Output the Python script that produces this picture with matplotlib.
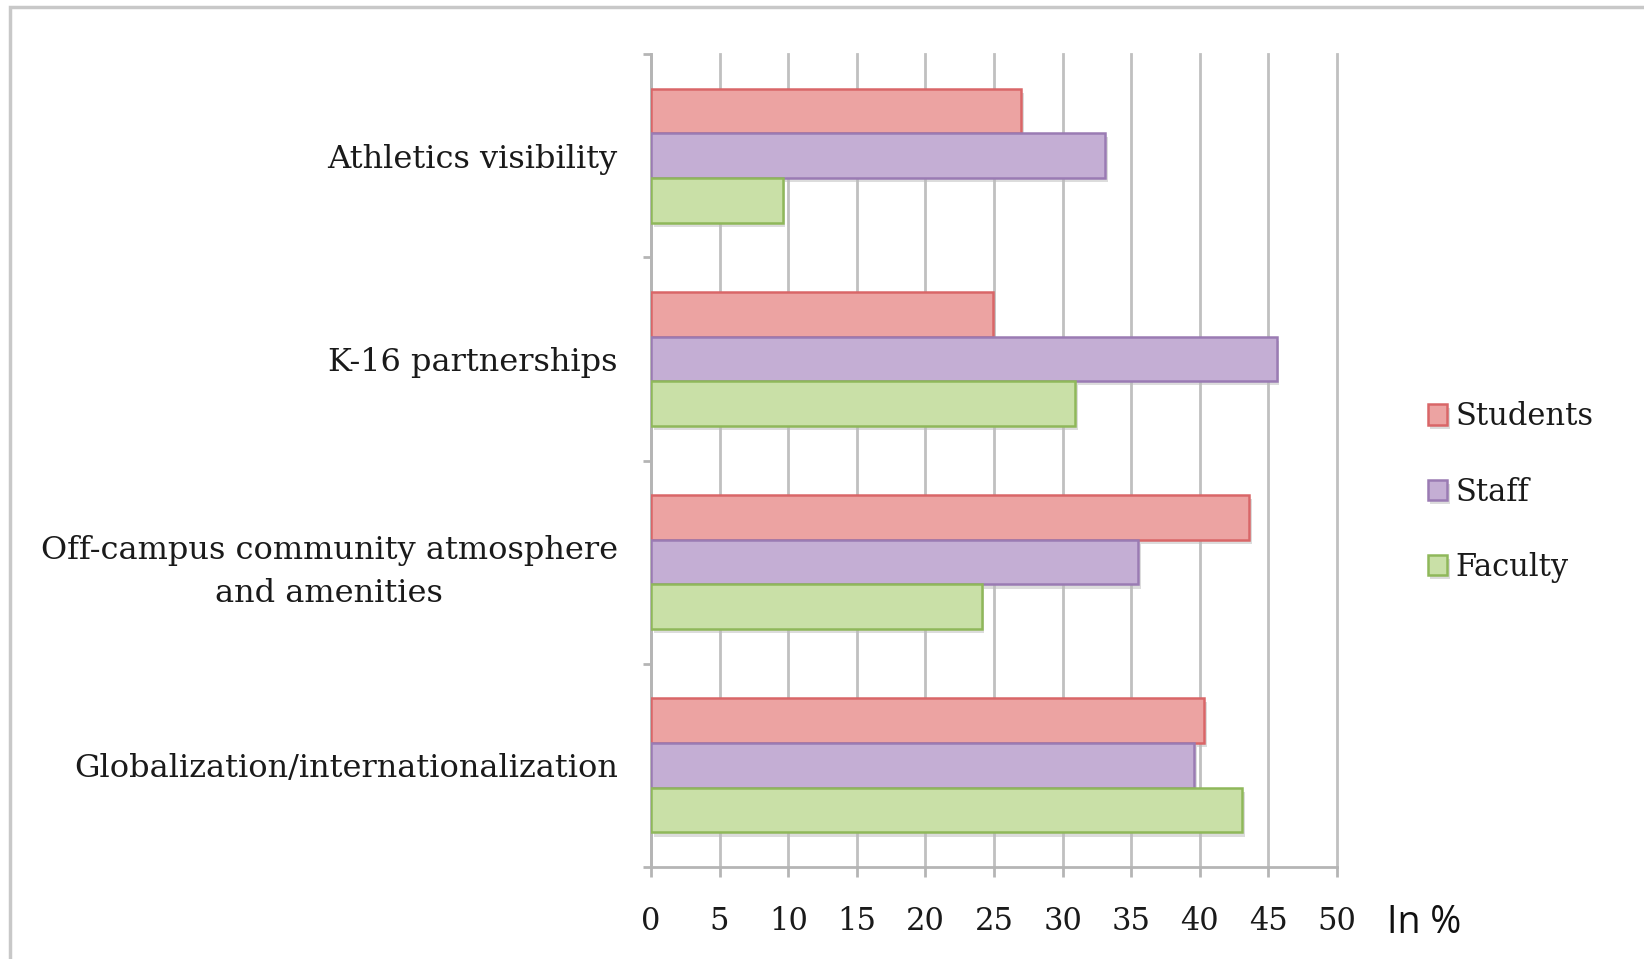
import matplotlib
matplotlib.use("Agg")
import matplotlib.pyplot as plt
import numpy as np
from matplotlib.patches import Rectangle
import matplotlib.patheffects as pe

categories = ["Athletics visibility", "K-16 partnerships",
              "Off-campus community atmosphere\nand amenities",
              "Globalization/internationalization"]
series_names = ["Students", "Staff", "Faculty"]
students = [27.0, 24.9, 43.6, 40.3]
staff = [33.1, 45.6, 35.5, 39.6]
faculty = [9.6, 30.9, 24.1, 43.1]
x_ticks = [0, 5, 10, 15, 20, 25, 30, 35, 40, 45, 50]

faces = ["#eca3a2", "#c4aed4", "#c9e0a7"]
edges = ["#d96668", "#9a7bb3", "#8fb85a"]

fig = plt.figure(figsize=(16.44, 9.59), dpi=100)
ax = fig.add_axes([651/1644, 1-867/959, (1337-651)/1644, (867-54)/959])

serif = "DejaVu Serif"
n = len(categories)
y = np.arange(n)
bh = 0.22
for i, (vals, fc, ec, name) in enumerate(zip([students, staff, faculty], faces, edges, series_names)):
    offs = (i - 1) * bh
    bars = ax.barh(y + offs, vals, height=bh, color=fc, edgecolor=ec, linewidth=1.8,
                   label=name, zorder=3)
    for b in bars:
        b.set_path_effects([pe.SimplePatchShadow(offset=(2, -3), shadow_rgbFace="#bbbbbb", alpha=0.5), pe.Normal()])

ax.set_ylim(n - 0.5, -0.5)
ax.set_xlim(0, 50)
ax.set_xticks(x_ticks)
ax.set_xticklabels([str(t) for t in x_ticks], family=serif, fontsize=22, color="#1a1a1a")
ax.set_yticks(y)
ax.set_yticklabels(categories, family=serif, fontsize=23, color="#1a1a1a",
                   multialignment="center", linespacing=1.5)
ax.set_yticks(np.arange(n + 1) - 0.5, minor=True)
ax.tick_params(axis="y", which="major", length=0, pad=24)
ax.tick_params(axis="y", which="minor", length=6, width=2, color="#b5b5b5", direction="out")
ax.tick_params(axis="x", length=7, width=2, color="#b5b5b5", direction="out", pad=21)

ax.grid(axis="x", color="#c0c0c0", linewidth=2, zorder=0)
for gl in ax.xaxis.get_gridlines():
    gl.set_clip_on(False)
ax.set_axisbelow(True)
for s in ["top", "right"]:
    ax.spines[s].set_visible(False)
for s in ["left", "bottom"]:
    ax.spines[s].set_color("#b5b5b5")
    ax.spines[s].set_linewidth(2)

fig.text(1424/1644, 1-923/959, "In %", fontsize=27, family="Open Sans", ha="center", va="center", color="#111111")

leg = ax.legend(loc="center left", bbox_to_anchor=(1400/1644, 1-492/959),
                bbox_transform=fig.transFigure, frameon=False,
                prop={"family": serif, "size": 22}, handlelength=0.65, handleheight=0.65,
                handletextpad=0.25, labelspacing=1.45)
for t in leg.get_texts():
    t.set_color("#1a1a1a")

fig.patches.append(Rectangle((10/1644, -0.05), 1.1, 1 - 7/959 + 0.05, transform=fig.transFigure,
                             fill=False, edgecolor="#c8c8c8", linewidth=2.5, zorder=0))

fig.savefig("out.png", dpi=100)
